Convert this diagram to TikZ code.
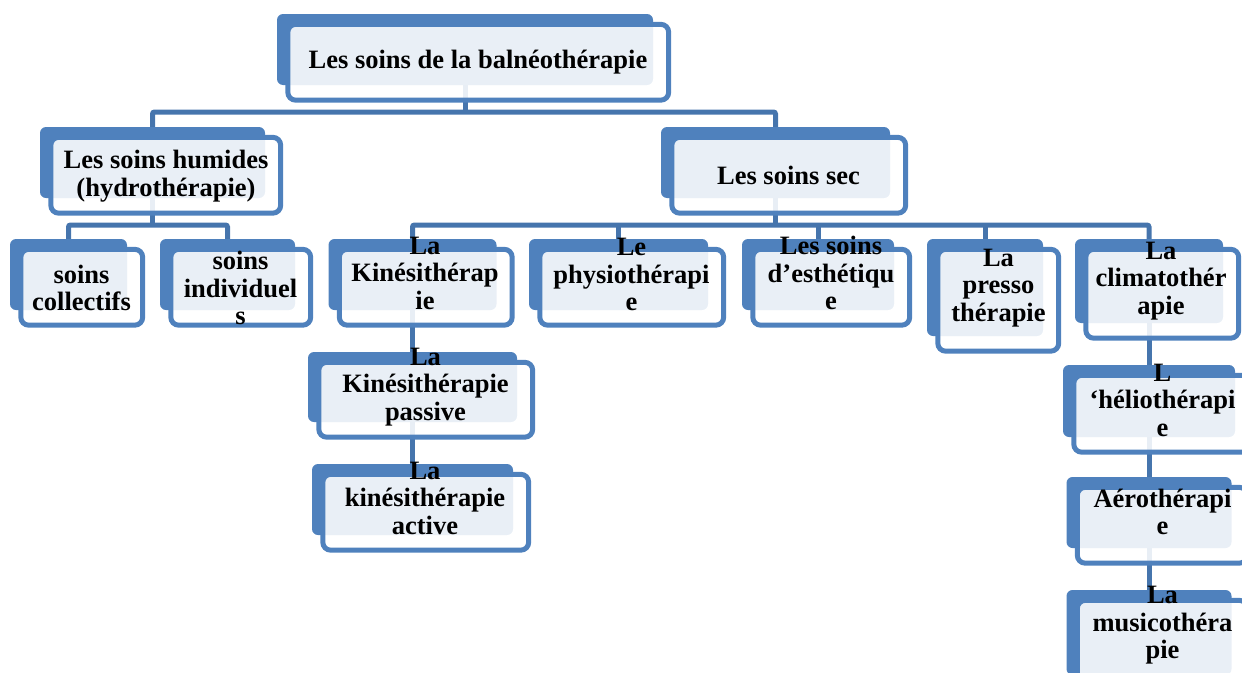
\documentclass[tikz,border=0pt]{standalone}
\usepackage{fontspec}
\setmainfont{Liberation Serif}
\usepackage{tikz}
\usetikzlibrary{positioning, backgrounds}

\definecolor{smblue}{HTML}{4F81BD}
\definecolor{linkblue}{HTML}{4675AD}

\begin{document}
\begin{tikzpicture}[x=1pt, y=-1pt,
  back node/.style={rectangle, fill=smblue, rounded corners=6pt, inner sep=0pt},
  front box/.style={draw=smblue, line width=5pt, fill=white, fill opacity=0.88, rounded corners=8pt},
  txt node/.style={align=center, inner sep=0pt, font=\fontsize{26.5}{27.5}\selectfont\bfseries},
  link/.style={draw=linkblue, line width=5pt, rounded corners=2pt}]

\useasboundingbox (0,0) rectangle (1242,672);
\clip (0,0) rectangle (1242,672);

% back boxes
\node[back node, minimum width=376pt, minimum height=71pt] (root) at (465,49.5) {};
\node[back node, minimum width=225pt, minimum height=71pt] (hum) at (152.5,162.5) {};
\node[back node, minimum width=229pt, minimum height=71pt] (sec) at (775.5,162.5) {};
\node[back node, minimum width=117pt, minimum height=71pt] (coll) at (68.5,274.5) {};
\node[back node, minimum width=135pt, minimum height=71pt] (indiv) at (227.5,274.5) {};
\node[back node, minimum width=168pt, minimum height=71pt] (kine) at (412.5,274.5) {};
\node[back node, minimum width=179pt, minimum height=71pt] (phys) at (618.5,274.5) {};
\node[back node, minimum width=152pt, minimum height=71pt] (esth) at (818,274.5) {};
\node[back node, minimum width=116pt, minimum height=97pt] (pres) at (985,287.5) {};
\node[back node, minimum width=148pt, minimum height=84pt] (clim) at (1149,281) {};
\node[back node, minimum width=209pt, minimum height=70pt] (pass) at (412.5,387) {};
\node[back node, minimum width=201pt, minimum height=71pt] (act) at (412.5,499.5) {};
\node[back node, minimum width=172pt, minimum height=72pt] (helio) at (1149,401) {};
\node[back node, minimum width=165pt, minimum height=71pt] (aero) at (1149,512.5) {};
\node[back node, minimum width=165pt, minimum height=85pt] (musi) at (1149,632.5) {};

% front boxes
\foreach \n in {root,hum,sec,coll,indiv,kine,phys,esth,pres,clim,pass,act,helio,aero,musi}
  \path[front box] ([shift={(11,10.5)}]\n.north west) rectangle ([shift={(15.5,15)}]\n.south east);

% texts
\node[txt node] (root-t) at (478,62) {Les soins de la balnéothérapie};
\node[txt node] (hum-t) at (166,176) {Les soins humides\\(hydrothérapie)};
\node[txt node] (sec-t) at (788.5,175) {Les soins sec};
\node[txt node] (coll-t) at (81.5,288) {soins\\collectifs};
\node[txt node] (indiv-t) at (240.5,288) {soins\\individuel\\s};
\node[txt node] (kine-t) at (425,273) {La\\Kinésithérap\\ie};
\node[txt node] (phys-t) at (631.5,274.5) {Le\\physiothérapi\\e};
\node[txt node] (esth-t) at (831,273) {Les soins\\d’esthétiqu\\e};
\node[txt node] (pres-t) at (998.5,288) {La\\presso\\thérapie};
\node[txt node] (clim-t) at (1161,281) {La\\climatothér\\apie};
\node[txt node] (pass-t) at (425.5,387) {La\\Kinésithérapie\\passive};
\node[txt node] (act-t) at (425,498) {La\\kinésithérapie\\active};
\node[txt node] (helio-t) at (1162.5,400) {L\\‘héliothérapi\\e};
\node[txt node] (aero-t) at (1162.5,512) {Aérothérapi\\e};
\node[txt node] (musi-t) at (1162.5,625.5) {La\\musicothéra\\pie};

% connectors
\begin{scope}[on background layer]
\coordinate (root-bar) at (465,112);
\coordinate (hum-bar) at (152.5,225);
\coordinate (sec-bar) at (775.5,225);
\draw[link] (hum.north) |- (root-bar) -| (sec.north);
\draw[link] (root.center) -- (root-bar);
\draw[link] (coll.north) |- (hum-bar) -| (indiv.north);
\draw[link] (hum.center) -- (hum-bar);
\draw[link] (kine.north) |- (sec-bar) -| (clim.north);
\draw[link] (sec.center) -- (sec-bar);
\foreach \n in {phys,esth,pres}
  \draw[link] (\n.north) -- (\n.north |- sec-bar);
\draw[link] (kine.center) -- (pass.north);
\draw[link] (pass.center) -- (act.north);
\draw[link] (clim.center) -- (helio.north);
\draw[link] (helio.center) -- (aero.north);
\draw[link] (aero.center) -- (musi.north);
\end{scope}

\end{tikzpicture}
\end{document}
